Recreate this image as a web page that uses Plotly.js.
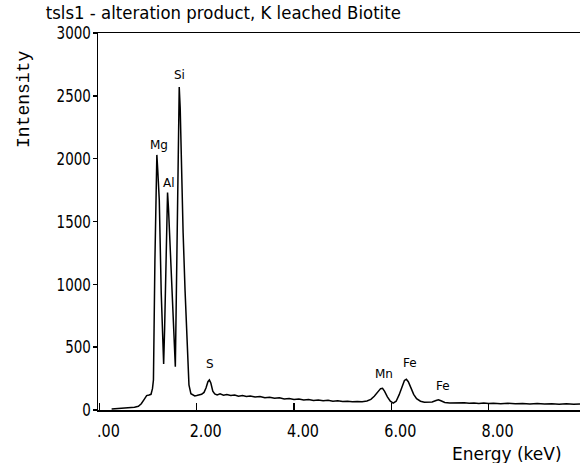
<!DOCTYPE html>
<html>
<head>
<meta charset="utf-8">
<script src="https://cdn.plot.ly/plotly-3.0.1.min.js"></script>
<style>html,body{margin:0;padding:0;background:#fff;}#chart{width:580px;height:463px;}</style>
</head>
<body>
<div id="chart"></div>
<script>
var energy = [0.25,0.35,0.45,0.55,0.65,0.72,0.80,0.86,0.92,0.97,1.02,1.06,1.09,1.11,1.14,1.16,1.18,1.20,1.23,1.27,1.30,1.32,1.34,1.36,1.38,1.40,1.42,1.45,1.50,1.54,1.56,1.58,1.60,1.62,1.64,1.66,1.68,1.72,1.76,1.80,1.84,1.88,1.92,1.96,2.00,2.05,2.10,2.15,2.19,2.23,2.26,2.29,2.33,2.37,2.42,2.48,2.55,2.62,2.70,2.78,2.86,2.94,3.02,3.10,3.20,3.30,3.40,3.50,3.60,3.70,3.80,3.90,4.00,4.10,4.20,4.30,4.40,4.50,4.60,4.70,4.80,4.90,5.00,5.10,5.20,5.30,5.40,5.50,5.58,5.65,5.72,5.78,5.82,5.86,5.92,5.98,6.04,6.10,6.16,6.22,6.27,6.31,6.35,6.40,6.46,6.52,6.60,6.68,6.76,6.84,6.92,6.97,7.02,7.10,7.20,7.30,7.40,7.50,7.60,7.70,7.80,7.90,8.00,8.10,8.25,8.40,8.55,8.70,8.85,9.00,9.15,9.30,9.45,9.60,9.75,9.88];
var intensity = [8,10,12,14,18,22,30,50,85,115,120,125,170,240,1190,1700,2030,1900,1670,930,520,366,650,1060,1500,1730,1600,1330,795,450,345,900,1460,2125,2570,2400,1990,1410,950,500,200,130,118,112,115,118,125,140,175,225,239,215,150,128,120,128,118,124,115,120,110,116,108,112,104,108,98,102,94,98,88,92,84,88,80,84,76,80,74,77,70,73,67,70,65,68,66,72,85,110,145,170,173,150,105,70,55,70,120,190,235,244,225,180,125,90,70,62,60,64,76,82,74,60,56,58,54,57,53,56,52,55,51,54,50,53,49,52,48,51,47,50,46,49,46,48];

var peakNames = ["Mg","Al","Si","S","Mn","Fe","Fe"];
var peakE = [1.22,1.43,1.65,2.27,5.84,6.38,7.07];
var peakI = [2108,1804,2666,366,284,371,191];

var xTickVals = [0,2,4,6,8];
var xTickText = [".00","2.00","4.00","6.00","8.00"];
var yTickVals = [0,500,1000,1500,2000,2500,3000];
var yTickText = ["0","500","1000","1500","2000","2500","3000"];

var sans = '"DejaVu Sans", sans-serif';

var trace = {
  x: energy, y: intensity, type: 'scatter', mode: 'lines',
  line: {color: '#000', width: 1.5, shape: 'linear'},
  hoverinfo: 'skip'
};

var annotations = peakNames.map(function(n, i){
  return {x: peakE[i], y: peakI[i], xref: 'x', yref: 'y', text: n, showarrow: false,
    xanchor: 'center', yanchor: 'middle', font: {family: sans, size: 12, color: '#000'}};
});
annotations.push({xref: 'paper', yref: 'paper', x: -0.155, y: 0.823, text: 'Intensity', textangle: -90,
  showarrow: false, xanchor: 'center', yanchor: 'middle',
  font: {family: '"Liberation Mono", "DejaVu Sans Mono", monospace', size: 18, color: '#000'}});
annotations.push({xref: 'paper', yref: 'paper', x: 0.848, y: -0.118, text: 'Energy (keV)',
  showarrow: false, xanchor: 'center', yanchor: 'middle',
  font: {family: sans, size: 17, color: '#000'}});

var layout = {
  width: 580, height: 463,
  margin: {l: 98, r: 0, t: 33, b: 53},
  paper_bgcolor: '#fff', plot_bgcolor: '#fff',
  showlegend: false,
  title: {text: 'tsls1 - alteration product, K leached Biotite', xref: 'container', yref: 'container',
    x: 0.385, y: 0.972, xanchor: 'center', yanchor: 'middle',
    font: {family: sans, size: 18, color: '#000'}},
  xaxis: {range: [-0.03, 9.88], showgrid: false, zeroline: false, showline: true, linecolor: '#000', linewidth: 1.5,
    mirror: true, ticks: 'inside', ticklen: 7, tickwidth: 1.5, tickcolor: '#000',
    tickvals: xTickVals, ticktext: xTickText, ticklabelshift: 9, ticklabelstandoff: 4,
    tickfont: {family: sans, size: 18, color: '#000'}},
  yaxis: {range: [0, 3000], showgrid: false, zeroline: false, showline: true, linecolor: '#000', linewidth: 1.5,
    mirror: true, ticks: 'outside', ticklen: 4, tickwidth: 1.5, tickcolor: '#000',
    tickvals: yTickVals, ticktext: yTickText,
    tickfont: {family: sans, size: 18, color: '#000'}},
  annotations: annotations
};

function narrowText(sel, s, dx) {
  document.querySelectorAll(sel).forEach(function(t){
    var x = parseFloat(t.getAttribute('x')) || 0;
    var tr = t.getAttribute('transform') || '';
    t.setAttribute('transform', tr + ' translate(' + (x + dx) + ',0) scale(' + s + ',1) translate(' + (-x) + ',0)');
  });
}

Plotly.newPlot('chart', [trace], layout, {displayModeBar: false, staticPlot: true}).then(function(){
  narrowText('.xtick text', 0.8, 0);
  narrowText('.ytick text', 0.75, 2);
  narrowText('text.gtitle', 0.92, 0);
});
</script>
</body>
</html>
